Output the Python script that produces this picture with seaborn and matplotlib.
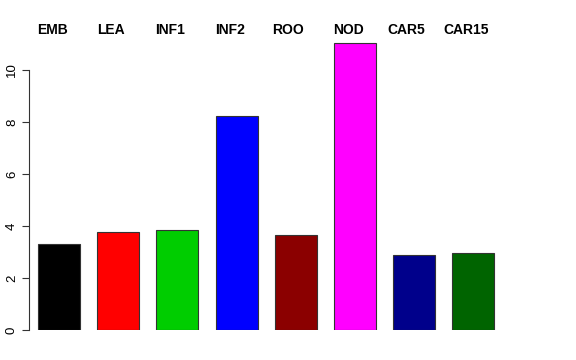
import matplotlib
matplotlib.use("Agg")
import matplotlib.pyplot as plt
import seaborn as sns

tissues = ["EMB", "LEA", "INF1", "INF2", "ROO", "NOD", "CAR5", "CAR15"]
values = [3.31, 3.77, 3.85, 8.23, 3.65, 11.04, 2.88, 2.96]
colors = ["#000000", "#FF0000", "#00CD00", "#0000FF",
          "#8B0000", "#FF00FF", "#00008B", "#006400"]
label_left_px = [37, 97, 155, 215, 272, 333, 387, 443]

sns.set_style("white")
plt.rcParams["font.family"] = ["Liberation Sans", "DejaVu Sans"]
plt.rcParams["text.color"] = "black"
plt.rcParams["ytick.color"] = "black"

W, H = 576, 360
fig = plt.figure(figsize=(W / 100, H / 100), dpi=100)
# axes box in pixels: left 29, right 520, top 40, bottom 330
ax = fig.add_axes([29 / W, 30 / H, (520 - 29) / W, (330 - 40) / H])

sns.barplot(x=tissues, y=values, hue=tissues, palette=colors, legend=False,
            saturation=1, width=0.71, edgecolor="#333333", linewidth=0.8,
            ax=ax)

ppu = 59.2
x0 = -0.355 - 9 / ppu
ax.set_xlim(x0, x0 + (520 - 29) / ppu)
ax.set_ylim(0, (330 - 40) / 26)

for s in ["top", "right", "bottom"]:
    ax.spines[s].set_visible(False)
ax.spines["left"].set_bounds(0, 10)
ax.spines["left"].set_color("#333333")
ax.spines["left"].set_linewidth(0.8)
ax.set_yticks([0, 2, 4, 6, 8, 10])
ax.set_yticklabels(["0", "2", "4", "6", "8", "10"], rotation=90, va="center")
ax.tick_params(axis="y", length=5, width=0.8, color="#333333",
               labelcolor="black", labelsize=9.5, pad=3, left=True)
ax.set_xticks([])
ax.set_xlabel("")
ax.set_ylabel("")

for name, px in zip(tissues, label_left_px):
    fig.text(px / W, 1 - 30 / H, name, ha="left", va="center",
             fontsize=10, fontweight="bold", color="black")

fig.savefig("out.png", dpi=100)
